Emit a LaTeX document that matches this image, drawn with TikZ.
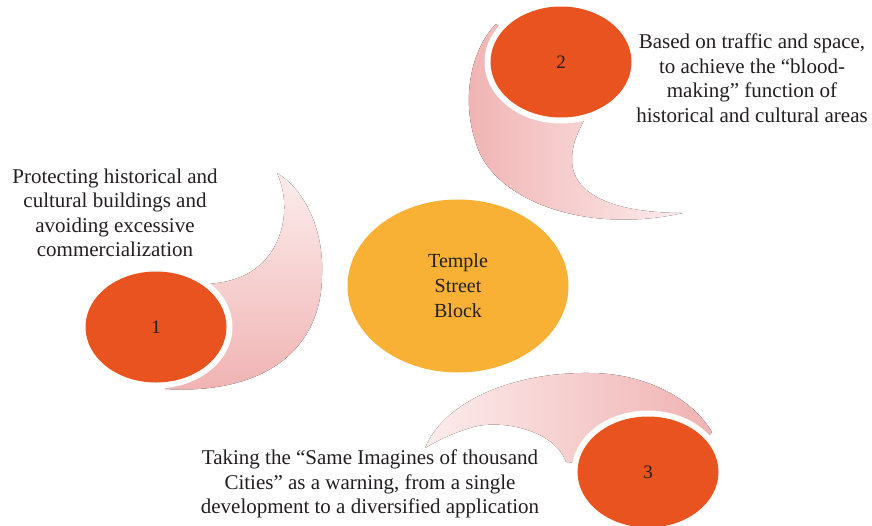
\documentclass[tikz,border=0pt]{standalone}
\usepackage{fontspec}
\setmainfont{Liberation Serif}
\usepackage{xcolor}
\usetikzlibrary{shapes.geometric}
\definecolor{blockorange}{RGB}{233,83,31}
\definecolor{blockyellow}{RGB}{248,177,53}
\definecolor{tailpink}{RGB}{240,178,178}
\definecolor{taillight}{RGB}{252,236,236}
\definecolor{textdark}{RGB}{35,31,32}
\tikzset{
  numball/.style={ellipse,fill=blockorange,minimum width=141pt,minimum height=111pt,inner sep=0pt,text=textdark,font=\fontsize{19}{22}\selectfont},
  gapball/.style={ellipse,fill=white,minimum width=153pt,minimum height=123pt,inner sep=0pt},
  note/.style={align=center,text=textdark,font=\fontsize{21}{24.5}\selectfont,inner sep=0pt}
}

\begin{document}
\begin{tikzpicture}
			[line cap=round,line join=round,x=1pt,y=-1pt]
			\useasboundingbox[fill=white] (0,0) rectangle (872,525);
			\fill [left color=tailpink,right color=taillight] (496,24) .. controls (470,50) and (462,100) .. (475,140) .. controls (490,200) and (585,235) .. (683,213) .. controls (615,213) and (572,195) .. (572,160) .. controls (572,140) and (580,128) .. (595,100) -- cycle;
			\fill [bottom color=tailpink,top color=taillight] (165,389) .. controls (270,395) and (322,345) .. (322,275) .. controls (324,230) and (305,190) .. (277,173) .. controls (292,205) and (285,255) .. (245,275) .. controls (230,282) and (218,283) .. (208,284) -- (180,330) -- cycle;
			\fill [right color=tailpink,left color=taillight] (425,448) .. controls (445,400) and (515,372) .. (590,373) .. controls (640,373) and (690,395) .. (712,432) -- (680,470) -- (566,462) .. controls (555,430) and (500,418) .. (470,428) .. controls (450,434) and (435,442) .. (425,448) -- cycle;
			\node [gapball] (gap1) at (156,327) {};
			\node [gapball] (gap2) at (561,62) {};
			\node [gapball] (gap3) at (648,472) {};
			\node [numball] (ball1) at (156,327) {1};
			\node [numball] (ball2) at (561,62) {2};
			\node [numball] (ball3) at (648,472) {3};
			\node [ellipse,fill=blockyellow,minimum width=221pt,minimum height=173pt,inner sep=0pt,align=center,text=textdark,font=\fontsize{20}{25}\selectfont] (block) at (458,286) {Temple\\Street\\Block};
			\node [note] (note1) at (115,213) {Protecting historical and\\cultural buildings and\\avoiding excessive\\commercialization};
			\node [note] (note2) at (752,78) {Based on traffic and space,\\to achieve the “blood-\\making” function of\\historical and cultural areas};
			\node [note] (note3) at (370,484) {Taking the “Same Imagines of thousand\\Cities” as a warning, from a single\\development to a diversified application};
		\end{tikzpicture}
\end{document}
